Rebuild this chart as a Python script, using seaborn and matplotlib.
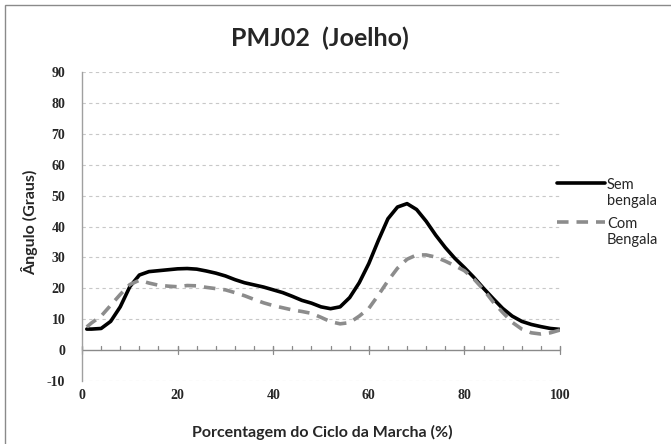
import matplotlib
matplotlib.use("Agg")
import matplotlib.pyplot as plt
import seaborn as sns
import pandas as pd
from matplotlib.patches import Rectangle

# ---- data ----
pct = [1, 2, 4, 6, 8, 10, 12, 14, 16, 18, 20, 22, 24, 26, 28, 30, 32, 34, 36, 38, 40,
       42, 44, 46, 48, 50, 52, 54, 56, 58, 60, 62, 64, 66, 68, 70, 72, 74, 76, 78, 80,
       82, 84, 86, 88, 90, 92, 94, 96, 98, 100]
sem_bengala = [6.8, 6.8, 7.0, 9.3, 14.0, 20.5, 24.3, 25.4, 25.7, 26.0, 26.3, 26.4, 26.2,
               25.6, 24.9, 24.0, 22.8, 21.8, 21.1, 20.4, 19.5, 18.6, 17.4, 16.1, 15.2,
               14.0, 13.4, 14.0, 17.0, 21.8, 28.0, 35.5, 42.5, 46.3, 47.4, 45.5, 41.7,
               37.2, 33.2, 29.7, 26.7, 23.5, 20.0, 16.7, 13.5, 11.0, 9.3, 8.3, 7.6, 7.0, 6.7]
com_bengala = [7.5, 8.8, 11.0, 14.5, 18.0, 21.2, 22.6, 21.7, 21.0, 20.7, 20.5, 20.9, 20.8,
               20.3, 19.9, 19.5, 18.6, 17.6, 16.4, 15.3, 14.4, 13.7, 13.0, 12.5, 11.9,
               10.6, 9.2, 8.5, 8.9, 11.0, 13.5, 17.8, 22.4, 26.5, 29.4, 30.8, 30.8, 30.1,
               28.8, 27.3, 25.7, 23.0, 19.6, 15.6, 12.2, 9.0, 6.8, 5.6, 5.2, 5.6, 6.5]
series_names = ["Sem\nbengala", "Com\nBengala"]
x_ticks = [0, 20, 40, 60, 80, 100]
y_ticks = [-10, 0, 10, 20, 30, 40, 50, 60, 70, 80, 90]
title = "PMJ02  (Joelho)"
xlabel = "Porcentagem do Ciclo da Marcha (%)"
ylabel = "Ângulo (Graus)"

df = pd.DataFrame({
    "x": pct * 2,
    "y": sem_bengala + com_bengala,
    "serie": [series_names[0]] * len(pct) + [series_names[1]] * len(pct),
})

sns.set_theme(style="white")
plt.rcParams["font.family"] = ["Lato", "DejaVu Sans"]
plt.rcParams["axes.unicode_minus"] = False

SERIF = ["Liberation Serif", "DejaVu Serif"]

fig = plt.figure(figsize=(6.71, 4.44), dpi=100)
ax = fig.add_axes([82 / 671, 63 / 444, 478 / 671, 309 / 444])

sns.lineplot(data=df, x="x", y="y", hue="serie", style="serie",
             palette={series_names[0]: "black", series_names[1]: "#8c8c8c"},
             dashes={series_names[0]: "", series_names[1]: (3.2, 2.2)},
             linewidth=2.6, ax=ax, legend=False)

ax.set_xlim(0, 100)
ax.set_ylim(-10, 90)
ax.set_yticks(y_ticks)
ax.set_xticks([])

# gridlines (dashed, light gray), except at 0 (axis line)
for v in y_ticks:
    if v != 0:
        ax.axhline(v, color="#c8c8c8", lw=0.8, ls=(0, (3, 3)), zorder=0)

# x axis line at y=0 with ticks
ax.axhline(0, color="#8a8a8a", lw=1.0, zorder=1)
for t in range(0, 101, 4):
    ax.plot([t, t], [0, 1.2], color="#8a8a8a", lw=0.9, zorder=1, clip_on=False)
for t in x_ticks:
    ax.plot([t, t], [-1.2, 1.2], color="#8a8a8a", lw=0.9, zorder=1, clip_on=False)

# x tick labels below plot area
for t in x_ticks:
    ax.text(t, -14.6, str(t), ha="center", va="center", fontsize=10,
            fontweight="bold", family=SERIF, transform=ax.transData)

for s in ["top", "right", "bottom"]:
    ax.spines[s].set_visible(False)
ax.spines["left"].set_color("#a0a0a0")
ax.spines["left"].set_linewidth(1.0)
ax.tick_params(axis="y", length=0, pad=12)
ax.set_yticklabels([str(v) for v in y_ticks])
for lab in ax.get_yticklabels():
    lab.set_fontfamily(SERIF)
    lab.set_fontweight("bold")
    lab.set_fontsize(10)

ax.set_xlabel("")
ax.set_ylabel("")
fig.text(30 / 671, 1 - 222 / 444, ylabel, rotation=90, ha="center", va="center",
         fontsize=11.5, fontweight="bold")
fig.text(322 / 671, 1 - 432 / 444, xlabel, ha="center", va="center",
         fontsize=11.5, fontweight="bold")
fig.text(320 / 671, 1 - 38 / 444, title, ha="center", va="center",
         fontsize=18, fontweight="bold")

# legend (manual, no frame)
lx0, lx1 = 557 / 671, 605 / 671
ly1 = 1 - 183 / 444
ly2 = 1 - 222 / 444
fig.add_artist(plt.Line2D([lx0, lx1], [ly1, ly1], color="black", lw=2.6,
                          transform=fig.transFigure))
fig.add_artist(plt.Line2D([lx0, lx1], [ly2, ly2], color="#8c8c8c", lw=2.6,
                          ls=(0, (3.2, 2.2)), transform=fig.transFigure))
fig.text(607 / 671, 1 - 193 / 444, series_names[0], ha="left", va="center",
         fontsize=10.5, linespacing=1.2)
fig.text(607 / 671, 1 - 232 / 444, series_names[1], ha="left", va="center",
         fontsize=10.5, linespacing=1.2)

# chart outer border (only left/top visible)
fig.patches.append(Rectangle((5 / 671, -0.1), 1.2, 1.1 - 5 / 444,
                             transform=fig.transFigure, fill=False,
                             edgecolor="#8a8a8a", lw=1.0))

fig.savefig("out.png", dpi=100)
